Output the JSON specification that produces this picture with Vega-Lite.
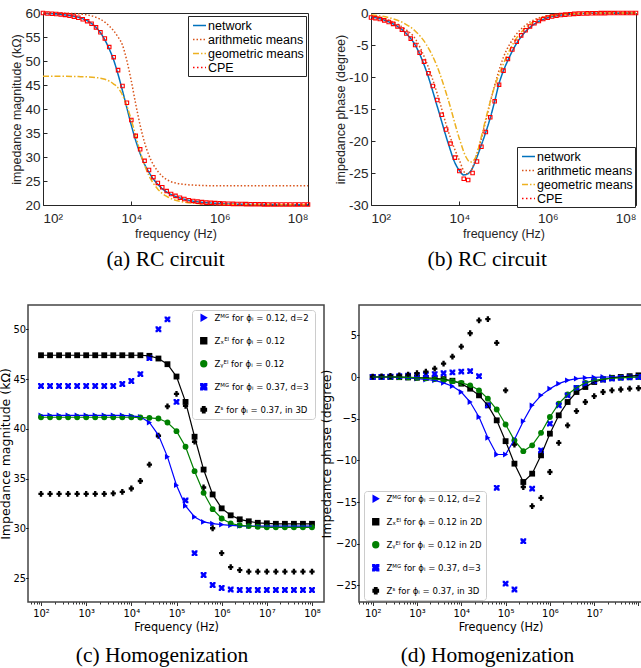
{
"$schema": "https://vega.github.io/schema/vega-lite/v6.json",
"background": "white",
"padding": {"left": -1, "top": 5, "right": 0, "bottom": 0},
"config": {"axis": {"grid": false, "domain": false, "labelOverlap": false}, "title": {"fontWeight": "normal"}},
"datasets": {
"mag": [
{"freq":100,"series":"network","value":59.9},{"freq":316.2,"series":"network","value":59.6},{"freq":631,"series":"network","value":59.1},{"freq":1000,"series":"network","value":58.4},{"freq":1259,"series":"network","value":57.8},{"freq":1585,"series":"network","value":57.0},{"freq":1995,"series":"network","value":55.9},{"freq":2512,"series":"network","value":54.4},{"freq":3162,"series":"network","value":52.5},{"freq":3981,"series":"network","value":50.2},{"freq":5012,"series":"network","value":47.2},{"freq":6310,"series":"network","value":43.8},{"freq":7943,"series":"network","value":40.2},{"freq":10000,"series":"network","value":36.6},{"freq":12590,"series":"network","value":33.4},{"freq":15850,"series":"network","value":30.7},{"freq":19950,"series":"network","value":28.5},{"freq":25120,"series":"network","value":26.8},{"freq":31620,"series":"network","value":25.4},{"freq":39810,"series":"network","value":24.3},{"freq":50120,"series":"network","value":23.4},{"freq":63100,"series":"network","value":22.7},{"freq":79430,"series":"network","value":22.2},{"freq":100000,"series":"network","value":21.8},{"freq":158500,"series":"network","value":21.2},{"freq":251200,"series":"network","value":20.8},{"freq":398100,"series":"network","value":20.55},{"freq":631000,"series":"network","value":20.4},{"freq":1000000,"series":"network","value":20.3},{"freq":3162000,"series":"network","value":20.15},{"freq":10000000,"series":"network","value":20.1},{"freq":100000000,"series":"network","value":20.05},
{"freq":100,"series":"arithmetic means","value":60.0},{"freq":316.2,"series":"arithmetic means","value":59.95},{"freq":1000,"series":"arithmetic means","value":59.6},{"freq":1585,"series":"arithmetic means","value":59.1},{"freq":2512,"series":"arithmetic means","value":58.1},{"freq":3162,"series":"arithmetic means","value":57.3},{"freq":3981,"series":"arithmetic means","value":56.3},{"freq":5012,"series":"arithmetic means","value":55.0},{"freq":6310,"series":"arithmetic means","value":53.3},{"freq":7943,"series":"arithmetic means","value":50.0},{"freq":10000,"series":"arithmetic means","value":45.8},{"freq":12590,"series":"arithmetic means","value":41.0},{"freq":15850,"series":"arithmetic means","value":36.6},{"freq":19950,"series":"arithmetic means","value":33.0},{"freq":25120,"series":"arithmetic means","value":30.3},{"freq":31620,"series":"arithmetic means","value":28.4},{"freq":39810,"series":"arithmetic means","value":27.0},{"freq":50120,"series":"arithmetic means","value":26.0},{"freq":63100,"series":"arithmetic means","value":25.3},{"freq":79430,"series":"arithmetic means","value":24.85},{"freq":100000,"series":"arithmetic means","value":24.6},{"freq":158500,"series":"arithmetic means","value":24.3},{"freq":316200,"series":"arithmetic means","value":24.1},{"freq":1000000,"series":"arithmetic means","value":24.0},{"freq":100000000,"series":"arithmetic means","value":24.0},
{"freq":100,"series":"geometric means","value":46.8},{"freq":316.2,"series":"geometric means","value":46.8},{"freq":631,"series":"geometric means","value":46.75},{"freq":1000,"series":"geometric means","value":46.7},{"freq":1585,"series":"geometric means","value":46.55},{"freq":2512,"series":"geometric means","value":46.2},{"freq":3162,"series":"geometric means","value":45.8},{"freq":3981,"series":"geometric means","value":45.2},{"freq":5012,"series":"geometric means","value":44.4},{"freq":6310,"series":"geometric means","value":42.9},{"freq":7943,"series":"geometric means","value":40.6},{"freq":10000,"series":"geometric means","value":37.7},{"freq":12590,"series":"geometric means","value":34.4},{"freq":15850,"series":"geometric means","value":31.1},{"freq":19950,"series":"geometric means","value":28.3},{"freq":25120,"series":"geometric means","value":26.1},{"freq":31620,"series":"geometric means","value":24.5},{"freq":39810,"series":"geometric means","value":23.3},{"freq":50120,"series":"geometric means","value":22.4},{"freq":63100,"series":"geometric means","value":21.8},{"freq":100000,"series":"geometric means","value":21.0},{"freq":158500,"series":"geometric means","value":20.6},{"freq":316200,"series":"geometric means","value":20.3},{"freq":1000000,"series":"geometric means","value":20.1},{"freq":100000000,"series":"geometric means","value":20.05},
{"freq":100,"series":"CPE","value":60.0},{"freq":125.9,"series":"CPE","value":59.9},{"freq":158.5,"series":"CPE","value":59.85},{"freq":199.5,"series":"CPE","value":59.8},{"freq":251.2,"series":"CPE","value":59.7},{"freq":316.2,"series":"CPE","value":59.6},{"freq":398.1,"series":"CPE","value":59.45},{"freq":501.2,"series":"CPE","value":59.25},{"freq":631,"series":"CPE","value":59.0},{"freq":794.3,"series":"CPE","value":58.7},
{"freq":1000,"series":"CPE","value":58.3},{"freq":1259,"series":"CPE","value":57.75},{"freq":1585,"series":"CPE","value":57.0},{"freq":1995,"series":"CPE","value":56.0},{"freq":2512,"series":"CPE","value":54.7},{"freq":3162,"series":"CPE","value":52.9},{"freq":3981,"series":"CPE","value":50.8},{"freq":5012,"series":"CPE","value":48.1},{"freq":6310,"series":"CPE","value":44.8},{"freq":7943,"series":"CPE","value":41.3},
{"freq":10000,"series":"CPE","value":37.7},{"freq":12590,"series":"CPE","value":34.4},{"freq":15850,"series":"CPE","value":31.6},{"freq":19950,"series":"CPE","value":29.2},{"freq":25120,"series":"CPE","value":27.3},{"freq":31620,"series":"CPE","value":25.8},{"freq":39810,"series":"CPE","value":24.6},{"freq":50120,"series":"CPE","value":23.7},{"freq":63100,"series":"CPE","value":22.9},{"freq":79430,"series":"CPE","value":22.3},
{"freq":100000,"series":"CPE","value":21.9},{"freq":125900,"series":"CPE","value":21.5},{"freq":158500,"series":"CPE","value":21.25},{"freq":199500,"series":"CPE","value":21.0},{"freq":251200,"series":"CPE","value":20.85},{"freq":316200,"series":"CPE","value":20.7},{"freq":398100,"series":"CPE","value":20.6},{"freq":501200,"series":"CPE","value":20.5},{"freq":631000,"series":"CPE","value":20.45},{"freq":794300,"series":"CPE","value":20.4},
{"freq":1000000,"series":"CPE","value":20.35},{"freq":1259000,"series":"CPE","value":20.3},{"freq":1585000,"series":"CPE","value":20.27},{"freq":1995000,"series":"CPE","value":20.24},{"freq":2512000,"series":"CPE","value":20.22},{"freq":3162000,"series":"CPE","value":20.2},{"freq":3981000,"series":"CPE","value":20.18},{"freq":5012000,"series":"CPE","value":20.16},{"freq":6310000,"series":"CPE","value":20.15},{"freq":7943000,"series":"CPE","value":20.14},
{"freq":10000000,"series":"CPE","value":20.13},{"freq":12590000,"series":"CPE","value":20.12},{"freq":15850000,"series":"CPE","value":20.11},{"freq":19950000,"series":"CPE","value":20.1},{"freq":25120000,"series":"CPE","value":20.1},{"freq":31620000,"series":"CPE","value":20.1},{"freq":39810000,"series":"CPE","value":20.1},{"freq":50120000,"series":"CPE","value":20.1},{"freq":63100000,"series":"CPE","value":20.1},{"freq":79430000,"series":"CPE","value":20.1},
{"freq":100000000,"series":"CPE","value":20.1}
],
"phase": [
{"freq":100,"series":"network","value":-0.6},{"freq":177.8,"series":"network","value":-1.0},{"freq":316.2,"series":"network","value":-1.7},{"freq":562.3,"series":"network","value":-2.9},{"freq":1000,"series":"network","value":-5.0},{"freq":1778,"series":"network","value":-9.0},{"freq":3162,"series":"network","value":-14.6},{"freq":5623,"series":"network","value":-20.4},{"freq":7943,"series":"network","value":-23.4},{"freq":10000,"series":"network","value":-24.6},{"freq":12590,"series":"network","value":-25.3},{"freq":15850,"series":"network","value":-25.1},{"freq":19950,"series":"network","value":-24.2},{"freq":25120,"series":"network","value":-22.5},{"freq":31620,"series":"network","value":-20.6},{"freq":39810,"series":"network","value":-18.6},{"freq":50120,"series":"network","value":-16.4},{"freq":63100,"series":"network","value":-13.8},{"freq":79430,"series":"network","value":-11.0},{"freq":100000,"series":"network","value":-9.0},{"freq":125900,"series":"network","value":-7.4},{"freq":177800,"series":"network","value":-5.3},{"freq":316200,"series":"network","value":-2.9},{"freq":562300,"series":"network","value":-1.5},{"freq":1000000,"series":"network","value":-0.75},{"freq":3162000,"series":"network","value":-0.2},{"freq":10000000,"series":"network","value":-0.05},{"freq":100000000,"series":"network","value":0},
{"freq":100,"series":"arithmetic means","value":-0.4},{"freq":177.8,"series":"arithmetic means","value":-0.8},{"freq":316.2,"series":"arithmetic means","value":-1.4},{"freq":562.3,"series":"arithmetic means","value":-2.4},{"freq":1000,"series":"arithmetic means","value":-4.0},{"freq":1778,"series":"arithmetic means","value":-7.6},{"freq":3162,"series":"arithmetic means","value":-12.6},{"freq":5623,"series":"arithmetic means","value":-18.5},{"freq":10000,"series":"arithmetic means","value":-23.0},{"freq":14130,"series":"arithmetic means","value":-25.1},{"freq":17780,"series":"arithmetic means","value":-24.8},{"freq":25120,"series":"arithmetic means","value":-22.0},{"freq":31620,"series":"arithmetic means","value":-19.6},{"freq":39810,"series":"arithmetic means","value":-16.8},{"freq":56230,"series":"arithmetic means","value":-12.6},{"freq":100000,"series":"arithmetic means","value":-6.9},{"freq":177800,"series":"arithmetic means","value":-3.7},{"freq":316200,"series":"arithmetic means","value":-1.9},{"freq":562300,"series":"arithmetic means","value":-0.9},{"freq":1000000,"series":"arithmetic means","value":-0.45},{"freq":3162000,"series":"arithmetic means","value":-0.12},{"freq":10000000,"series":"arithmetic means","value":-0.03},{"freq":100000000,"series":"arithmetic means","value":0},
{"freq":100,"series":"geometric means","value":-0.3},{"freq":177.8,"series":"geometric means","value":-0.5},{"freq":316.2,"series":"geometric means","value":-0.9},{"freq":562.3,"series":"geometric means","value":-1.6},{"freq":1000,"series":"geometric means","value":-2.8},{"freq":1778,"series":"geometric means","value":-4.9},{"freq":3162,"series":"geometric means","value":-8.4},{"freq":5623,"series":"geometric means","value":-13.6},{"freq":10000,"series":"geometric means","value":-19.6},{"freq":14130,"series":"geometric means","value":-22.5},{"freq":17780,"series":"geometric means","value":-23.3},{"freq":22390,"series":"geometric means","value":-22.8},{"freq":31620,"series":"geometric means","value":-19.3},{"freq":39810,"series":"geometric means","value":-16.5},{"freq":56230,"series":"geometric means","value":-12.6},{"freq":100000,"series":"geometric means","value":-7.9},{"freq":177800,"series":"geometric means","value":-4.4},{"freq":316200,"series":"geometric means","value":-2.3},{"freq":562300,"series":"geometric means","value":-1.1},{"freq":1000000,"series":"geometric means","value":-0.5},{"freq":3162000,"series":"geometric means","value":-0.15},{"freq":10000000,"series":"geometric means","value":-0.03},{"freq":100000000,"series":"geometric means","value":0},
{"freq":100,"series":"CPE","value":-0.7},{"freq":125.9,"series":"CPE","value":-0.8},{"freq":158.5,"series":"CPE","value":-0.95},{"freq":199.5,"series":"CPE","value":-1.15},{"freq":251.2,"series":"CPE","value":-1.4},{"freq":316.2,"series":"CPE","value":-1.7},{"freq":398.1,"series":"CPE","value":-2.1},{"freq":501.2,"series":"CPE","value":-2.6},{"freq":631,"series":"CPE","value":-3.2},{"freq":794.3,"series":"CPE","value":-4.0},
{"freq":1000,"series":"CPE","value":-5.0},{"freq":1259,"series":"CPE","value":-6.2},{"freq":1585,"series":"CPE","value":-7.6},{"freq":1995,"series":"CPE","value":-9.4},{"freq":2512,"series":"CPE","value":-11.4},{"freq":3162,"series":"CPE","value":-13.6},{"freq":3981,"series":"CPE","value":-15.9},{"freq":5012,"series":"CPE","value":-18.2},{"freq":6310,"series":"CPE","value":-20.4},{"freq":7943,"series":"CPE","value":-22.6},
{"freq":10000,"series":"CPE","value":-24.7},{"freq":12590,"series":"CPE","value":-25.9},{"freq":15850,"series":"CPE","value":-26.1},{"freq":19950,"series":"CPE","value":-25.0},{"freq":25120,"series":"CPE","value":-23.2},{"freq":31620,"series":"CPE","value":-20.9},{"freq":39810,"series":"CPE","value":-18.6},{"freq":50120,"series":"CPE","value":-16.3},{"freq":63100,"series":"CPE","value":-13.8},{"freq":79430,"series":"CPE","value":-11.2},
{"freq":100000,"series":"CPE","value":-9.0},{"freq":125900,"series":"CPE","value":-7.2},{"freq":158500,"series":"CPE","value":-5.7},{"freq":199500,"series":"CPE","value":-4.5},{"freq":251200,"series":"CPE","value":-3.5},{"freq":316200,"series":"CPE","value":-2.7},{"freq":398100,"series":"CPE","value":-2.1},{"freq":501200,"series":"CPE","value":-1.6},{"freq":631000,"series":"CPE","value":-1.25},{"freq":794300,"series":"CPE","value":-0.95},
{"freq":1000000,"series":"CPE","value":-0.72},{"freq":1259000,"series":"CPE","value":-0.55},{"freq":1585000,"series":"CPE","value":-0.42},{"freq":1995000,"series":"CPE","value":-0.32},{"freq":2512000,"series":"CPE","value":-0.25},{"freq":3162000,"series":"CPE","value":-0.19},{"freq":3981000,"series":"CPE","value":-0.14},{"freq":5012000,"series":"CPE","value":-0.1},{"freq":6310000,"series":"CPE","value":-0.08},{"freq":7943000,"series":"CPE","value":-0.06},
{"freq":10000000,"series":"CPE","value":-0.04},{"freq":12590000,"series":"CPE","value":-0.03},{"freq":15850000,"series":"CPE","value":-0.02},{"freq":19950000,"series":"CPE","value":-0.02},{"freq":25120000,"series":"CPE","value":-0.01},{"freq":31620000,"series":"CPE","value":-0.01},{"freq":39810000,"series":"CPE","value":0},{"freq":50120000,"series":"CPE","value":0},{"freq":63100000,"series":"CPE","value":0},{"freq":79430000,"series":"CPE","value":0},
{"freq":100000000,"series":"CPE","value":0}
],
"hmag": [
{"freq":100,"series":"mg012","value":41.35},{"freq":158.5,"series":"mg012","value":41.35},{"freq":251.2,"series":"mg012","value":41.35},{"freq":398.1,"series":"mg012","value":41.35},{"freq":631,"series":"mg012","value":41.35},{"freq":1000,"series":"mg012","value":41.35},{"freq":1585,"series":"mg012","value":41.35},{"freq":2512,"series":"mg012","value":41.35},{"freq":3981,"series":"mg012","value":41.35},{"freq":6310,"series":"mg012","value":41.35},{"freq":10000,"series":"mg012","value":41.3},{"freq":15850,"series":"mg012","value":41.2},{"freq":25120,"series":"mg012","value":40.63},{"freq":39810,"series":"mg012","value":39.36},{"freq":63100,"series":"mg012","value":37.18},{"freq":100000,"series":"mg012","value":34.33},{"freq":158500,"series":"mg012","value":32.25},{"freq":251200,"series":"mg012","value":31.14},{"freq":398100,"series":"mg012","value":30.64},{"freq":631000,"series":"mg012","value":30.47},{"freq":1000000,"series":"mg012","value":30.37},{"freq":1585000,"series":"mg012","value":30.3},{"freq":2512000,"series":"mg012","value":30.25},{"freq":3981000,"series":"mg012","value":30.22},{"freq":6310000,"series":"mg012","value":30.22},{"freq":10000000,"series":"mg012","value":30.22},{"freq":15850000,"series":"mg012","value":30.22},{"freq":25120000,"series":"mg012","value":30.22},{"freq":39810000,"series":"mg012","value":30.22},{"freq":63100000,"series":"mg012","value":30.22},{"freq":100000000,"series":"mg012","value":30.22},
{"freq":100,"series":"zx","value":47.39},{"freq":158.5,"series":"zx","value":47.39},{"freq":251.2,"series":"zx","value":47.39},{"freq":398.1,"series":"zx","value":47.39},{"freq":631,"series":"zx","value":47.39},{"freq":1000,"series":"zx","value":47.39},{"freq":1585,"series":"zx","value":47.39},{"freq":2512,"series":"zx","value":47.39},{"freq":3981,"series":"zx","value":47.39},{"freq":6310,"series":"zx","value":47.39},{"freq":10000,"series":"zx","value":47.39},{"freq":15850,"series":"zx","value":47.39},{"freq":25120,"series":"zx","value":47.33},{"freq":39810,"series":"zx","value":47.06},{"freq":63100,"series":"zx","value":46.49},{"freq":100000,"series":"zx","value":45.25},{"freq":158500,"series":"zx","value":42.7},{"freq":251200,"series":"zx","value":39.2},{"freq":398100,"series":"zx","value":35.9},{"freq":631000,"series":"zx","value":33.4},{"freq":1000000,"series":"zx","value":32.0},{"freq":1585000,"series":"zx","value":31.3},{"freq":2512000,"series":"zx","value":30.9},{"freq":3981000,"series":"zx","value":30.7},{"freq":6310000,"series":"zx","value":30.55},{"freq":10000000,"series":"zx","value":30.5},{"freq":15850000,"series":"zx","value":30.45},{"freq":25120000,"series":"zx","value":30.45},{"freq":39810000,"series":"zx","value":30.45},{"freq":63100000,"series":"zx","value":30.45},{"freq":100000000,"series":"zx","value":30.45},
{"freq":100,"series":"zy","value":41.16},{"freq":158.5,"series":"zy","value":41.16},{"freq":251.2,"series":"zy","value":41.16},{"freq":398.1,"series":"zy","value":41.16},{"freq":631,"series":"zy","value":41.16},{"freq":1000,"series":"zy","value":41.16},{"freq":1585,"series":"zy","value":41.16},{"freq":2512,"series":"zy","value":41.16},{"freq":3981,"series":"zy","value":41.16},{"freq":6310,"series":"zy","value":41.16},{"freq":10000,"series":"zy","value":41.16},{"freq":15850,"series":"zy","value":41.13},{"freq":25120,"series":"zy","value":41.1},{"freq":39810,"series":"zy","value":41.03},{"freq":63100,"series":"zy","value":40.63},{"freq":100000,"series":"zy","value":39.76},{"freq":158500,"series":"zy","value":38.19},{"freq":251200,"series":"zy","value":35.74},{"freq":398100,"series":"zy","value":33.56},{"freq":631000,"series":"zy","value":31.92},{"freq":1000000,"series":"zy","value":30.98},{"freq":1585000,"series":"zy","value":30.48},{"freq":2512000,"series":"zy","value":30.3},{"freq":3981000,"series":"zy","value":30.22},{"freq":6310000,"series":"zy","value":30.15},{"freq":10000000,"series":"zy","value":30.1},{"freq":15850000,"series":"zy","value":30.1},{"freq":25120000,"series":"zy","value":30.1},{"freq":39810000,"series":"zy","value":30.1},{"freq":63100000,"series":"zy","value":30.1},{"freq":100000000,"series":"zy","value":30.1},
{"freq":100,"series":"mg037","value":44.3},{"freq":158.5,"series":"mg037","value":44.3},{"freq":251.2,"series":"mg037","value":44.3},{"freq":398.1,"series":"mg037","value":44.3},{"freq":631,"series":"mg037","value":44.3},{"freq":1000,"series":"mg037","value":44.3},{"freq":1585,"series":"mg037","value":44.3},{"freq":2512,"series":"mg037","value":44.3},{"freq":3981,"series":"mg037","value":44.3},{"freq":6310,"series":"mg037","value":44.5},{"freq":10000,"series":"mg037","value":44.8},{"freq":15850,"series":"mg037","value":45.5},{"freq":25120,"series":"mg037","value":47.1},{"freq":39810,"series":"mg037","value":50.0},{"freq":63100,"series":"mg037","value":51.0},{"freq":100000,"series":"mg037","value":42.7},{"freq":158500,"series":"mg037","value":32.8},{"freq":251200,"series":"mg037","value":27.5},{"freq":398100,"series":"mg037","value":25.3},{"freq":631000,"series":"mg037","value":24.3},{"freq":1000000,"series":"mg037","value":24.0},{"freq":1585000,"series":"mg037","value":23.85},{"freq":2512000,"series":"mg037","value":23.8},{"freq":3981000,"series":"mg037","value":23.8},{"freq":6310000,"series":"mg037","value":23.8},{"freq":10000000,"series":"mg037","value":23.8},{"freq":15850000,"series":"mg037","value":23.8},{"freq":25120000,"series":"mg037","value":23.8},{"freq":39810000,"series":"mg037","value":23.8},{"freq":63100000,"series":"mg037","value":23.8},{"freq":100000000,"series":"mg037","value":23.8},
{"freq":100,"series":"zs","value":33.45},{"freq":158.5,"series":"zs","value":33.45},{"freq":251.2,"series":"zs","value":33.45},{"freq":398.1,"series":"zs","value":33.45},{"freq":631,"series":"zs","value":33.45},{"freq":1000,"series":"zs","value":33.45},{"freq":1585,"series":"zs","value":33.45},{"freq":2512,"series":"zs","value":33.45},{"freq":3981,"series":"zs","value":33.5},{"freq":6310,"series":"zs","value":33.65},{"freq":10000,"series":"zs","value":34.0},{"freq":15850,"series":"zs","value":34.75},{"freq":25120,"series":"zs","value":36.4},{"freq":39810,"series":"zs","value":39.3},{"freq":63100,"series":"zs","value":42.25},{"freq":100000,"series":"zs","value":43.5},{"freq":158500,"series":"zs","value":42.3},{"freq":251200,"series":"zs","value":38.7},{"freq":398100,"series":"zs","value":34.1},{"freq":631000,"series":"zs","value":30.0},{"freq":1000000,"series":"zs","value":27.5},{"freq":1585000,"series":"zs","value":26.1},{"freq":2512000,"series":"zs","value":25.8},{"freq":3981000,"series":"zs","value":25.65},{"freq":6310000,"series":"zs","value":25.65},{"freq":10000000,"series":"zs","value":25.65},{"freq":15850000,"series":"zs","value":25.65},{"freq":25120000,"series":"zs","value":25.65},{"freq":39810000,"series":"zs","value":25.65},{"freq":63100000,"series":"zs","value":25.65},{"freq":100000000,"series":"zs","value":25.65}
],
"hphase": [
{"freq":100,"series":"mg012","value":0},{"freq":158.5,"series":"mg012","value":0},{"freq":251.2,"series":"mg012","value":0},{"freq":398.1,"series":"mg012","value":-0.05},{"freq":631,"series":"mg012","value":-0.1},{"freq":1000,"series":"mg012","value":-0.2},{"freq":1585,"series":"mg012","value":-0.3},{"freq":2512,"series":"mg012","value":-0.4},{"freq":3981,"series":"mg012","value":-0.7},{"freq":6310,"series":"mg012","value":-1.1},{"freq":10000,"series":"mg012","value":-1.8},{"freq":15850,"series":"mg012","value":-3.0},{"freq":25120,"series":"mg012","value":-4.8},{"freq":39810,"series":"mg012","value":-7.3},{"freq":63100,"series":"mg012","value":-9.3},{"freq":100000,"series":"mg012","value":-9.3},{"freq":158500,"series":"mg012","value":-7.5},{"freq":251200,"series":"mg012","value":-5.3},{"freq":398100,"series":"mg012","value":-3.4},{"freq":631000,"series":"mg012","value":-2.2},{"freq":1000000,"series":"mg012","value":-1.4},{"freq":1585000,"series":"mg012","value":-0.8},{"freq":2512000,"series":"mg012","value":-0.4},{"freq":3981000,"series":"mg012","value":-0.2},{"freq":6310000,"series":"mg012","value":-0.1},{"freq":10000000,"series":"mg012","value":-0.05},{"freq":15850000,"series":"mg012","value":0},{"freq":25120000,"series":"mg012","value":0},{"freq":39810000,"series":"mg012","value":0},{"freq":63100000,"series":"mg012","value":0},{"freq":100000000,"series":"mg012","value":0},
{"freq":100,"series":"zx","value":0},{"freq":158.5,"series":"zx","value":0},{"freq":251.2,"series":"zx","value":0},{"freq":398.1,"series":"zx","value":-0.02},{"freq":631,"series":"zx","value":-0.05},{"freq":1000,"series":"zx","value":-0.08},{"freq":1585,"series":"zx","value":-0.1},{"freq":2512,"series":"zx","value":-0.15},{"freq":3981,"series":"zx","value":-0.25},{"freq":6310,"series":"zx","value":-0.45},{"freq":10000,"series":"zx","value":-0.8},{"freq":15850,"series":"zx","value":-1.4},{"freq":25120,"series":"zx","value":-2.2},{"freq":39810,"series":"zx","value":-3.4},{"freq":63100,"series":"zx","value":-5.2},{"freq":100000,"series":"zx","value":-7.7},{"freq":158500,"series":"zx","value":-10.4},{"freq":251200,"series":"zx","value":-12.6},{"freq":398100,"series":"zx","value":-11.6},{"freq":631000,"series":"zx","value":-9.4},{"freq":1000000,"series":"zx","value":-6.8},{"freq":1585000,"series":"zx","value":-4.6},{"freq":2512000,"series":"zx","value":-3.0},{"freq":3981000,"series":"zx","value":-1.8},{"freq":6310000,"series":"zx","value":-1.2},{"freq":10000000,"series":"zx","value":-0.6},{"freq":15850000,"series":"zx","value":-0.3},{"freq":25120000,"series":"zx","value":-0.1},{"freq":39810000,"series":"zx","value":0},{"freq":63100000,"series":"zx","value":0.1},{"freq":100000000,"series":"zx","value":0.2},
{"freq":100,"series":"zy","value":0},{"freq":158.5,"series":"zy","value":0},{"freq":251.2,"series":"zy","value":0},{"freq":398.1,"series":"zy","value":-0.02},{"freq":631,"series":"zy","value":-0.05},{"freq":1000,"series":"zy","value":-0.1},{"freq":1585,"series":"zy","value":-0.15},{"freq":2512,"series":"zy","value":-0.25},{"freq":3981,"series":"zy","value":-0.35},{"freq":6310,"series":"zy","value":-0.5},{"freq":10000,"series":"zy","value":-0.7},{"freq":15850,"series":"zy","value":-1.0},{"freq":25120,"series":"zy","value":-1.6},{"freq":39810,"series":"zy","value":-2.6},{"freq":63100,"series":"zy","value":-3.9},{"freq":100000,"series":"zy","value":-5.7},{"freq":158500,"series":"zy","value":-7.6},{"freq":251200,"series":"zy","value":-8.9},{"freq":398100,"series":"zy","value":-8.2},{"freq":631000,"series":"zy","value":-6.7},{"freq":1000000,"series":"zy","value":-4.8},{"freq":1585000,"series":"zy","value":-3.2},{"freq":2512000,"series":"zy","value":-2.1},{"freq":3981000,"series":"zy","value":-1.3},{"freq":6310000,"series":"zy","value":-0.7},{"freq":10000000,"series":"zy","value":-0.4},{"freq":15850000,"series":"zy","value":-0.25},{"freq":25120000,"series":"zy","value":-0.15},{"freq":39810000,"series":"zy","value":-0.1},{"freq":63100000,"series":"zy","value":-0.05},{"freq":100000000,"series":"zy","value":0},
{"freq":100,"series":"mg037","value":0},{"freq":158.5,"series":"mg037","value":0},{"freq":251.2,"series":"mg037","value":0.05},{"freq":398.1,"series":"mg037","value":0.1},{"freq":631,"series":"mg037","value":0.15},{"freq":1000,"series":"mg037","value":0.2},{"freq":1585,"series":"mg037","value":0.3},{"freq":2512,"series":"mg037","value":0.35},{"freq":3981,"series":"mg037","value":0.45},{"freq":6310,"series":"mg037","value":0.55},{"freq":10000,"series":"mg037","value":0.65},{"freq":15850,"series":"mg037","value":0.7},{"freq":25120,"series":"mg037","value":0.1},{"freq":39810,"series":"mg037","value":-3.4},{"freq":63100,"series":"mg037","value":-13.3},{"freq":100000,"series":"mg037","value":-24.8},{"freq":158500,"series":"mg037","value":-25.5},{"freq":251200,"series":"mg037","value":-19.7},{"freq":398100,"series":"mg037","value":-13.4},{"freq":631000,"series":"mg037","value":-8.8},{"freq":1000000,"series":"mg037","value":-5.6},{"freq":1585000,"series":"mg037","value":-3.4},{"freq":2512000,"series":"mg037","value":-2.2},{"freq":3981000,"series":"mg037","value":-1.3},{"freq":6310000,"series":"mg037","value":-0.8},{"freq":10000000,"series":"mg037","value":-0.5},{"freq":15850000,"series":"mg037","value":-0.3},{"freq":25120000,"series":"mg037","value":-0.2},{"freq":39810000,"series":"mg037","value":-0.1},{"freq":63100000,"series":"mg037","value":-0.05},{"freq":100000000,"series":"mg037","value":0},
{"freq":100,"series":"zs","value":0.05},{"freq":158.5,"series":"zs","value":0.08},{"freq":251.2,"series":"zs","value":0.12},{"freq":398.1,"series":"zs","value":0.18},{"freq":631,"series":"zs","value":0.28},{"freq":1000,"series":"zs","value":0.45},{"freq":1585,"series":"zs","value":0.65},{"freq":2512,"series":"zs","value":1.0},{"freq":3981,"series":"zs","value":1.6},{"freq":6310,"series":"zs","value":2.45},{"freq":10000,"series":"zs","value":3.65},{"freq":15850,"series":"zs","value":5.25},{"freq":25120,"series":"zs","value":6.8},{"freq":39810,"series":"zs","value":6.95},{"freq":63100,"series":"zs","value":4.1},{"freq":100000,"series":"zs","value":-1.6},{"freq":158500,"series":"zs","value":-8.1},{"freq":251200,"series":"zs","value":-13.2},{"freq":398100,"series":"zs","value":-15.5},{"freq":631000,"series":"zs","value":-14.5},{"freq":1000000,"series":"zs","value":-11.4},{"freq":1585000,"series":"zs","value":-7.9},{"freq":2512000,"series":"zs","value":-5.8},{"freq":3981000,"series":"zs","value":-4.1},{"freq":6310000,"series":"zs","value":-3.0},{"freq":10000000,"series":"zs","value":-2.3},{"freq":15850000,"series":"zs","value":-1.8},{"freq":25120000,"series":"zs","value":-1.6},{"freq":39810000,"series":"zs","value":-1.5},{"freq":63100000,"series":"zs","value":-1.4},{"freq":100000000,"series":"zs","value":-1.35}
]
},
"vconcat": [
{
"hconcat": [
{"width": 1, "height": 192, "view": {"stroke": null}, "data": {"values": []}, "mark": {"type": "point", "opacity": 0}, "encoding": {}},
{
"hconcat": [
{
"width": 265, "height": 192,
"view": {"stroke": "#262626", "strokeWidth": 1},
"title": {"text": "(a) RC circuit", "orient": "bottom", "anchor": "middle", "frame": "group", "dx": -10, "offset": 9, "font": "Liberation Serif", "fontSize": 21.5, "fontWeight": "normal", "color": "black"},
"data": {"name": "mag"},
"encoding": {
"x": {"field": "freq", "type": "quantitative", "scale": {"type": "log", "domain": [100, 100000000], "nice": false},
"axis": {"values": [100, 10000, 1000000, 100000000], "labelExpr": "'10' + ['⁰','¹','²','³','⁴','⁵','⁶','⁷','⁸','⁹'][round(log(datum.value)/LN10)]", "title": "frequency (Hz)", "titleFont": "Liberation Sans", "titleFontSize": 12.5, "titleFontWeight": "normal", "titleColor": "#262626", "titlePadding": 2.5, "labelFont": "Liberation Sans", "labelFontSize": 13.5, "labelColor": "#262626", "labelPadding": 10.5, "tickSize": -4, "tickColor": "#262626"}},
"y": {"field": "value", "type": "quantitative", "scale": {"domain": [20, 60], "nice": false, "zero": false},
"axis": {"values": [20,25,30,35,40,45,50,55,60], "title": "impedance magnitude (kΩ)", "titleFont": "Liberation Sans", "titleFontSize": 12.5, "titleFontWeight": "normal", "titleColor": "#262626", "titlePadding": 1, "labelFont": "Liberation Sans", "labelFontSize": 13.5, "labelColor": "#262626", "labelPadding": 7, "tickSize": -4, "tickColor": "#262626"}}
},
"layer": [
{"transform": [{"filter": "datum.series !== 'CPE'"}],
"mark": {"type": "line", "interpolate": "monotone", "strokeWidth": 1.5},
"encoding": {
"color": {"field": "series", "type": "nominal", "scale": {"domain": ["network", "arithmetic means", "geometric means", "CPE"], "range": ["#0072BD", "#D95319", "#EDB120", "#FF0000"]},
"legend": {"title": null, "orient": "none", "legendX": 145, "legendY": 3, "direction": "vertical", "strokeColor": "#262626", "fillColor": "white", "padding": 2, "rowPadding": 0, "symbolSize": 169, "symbolType": "stroke", "symbolStrokeWidth": 1.5, "symbolOffset": 2, "labelOffset": 1, "labelFont": "Liberation Sans", "labelFontSize": 12.5, "labelColor": "black", "labelLimit": 300}},
"strokeDash": {"field": "series", "type": "nominal", "scale": {"domain": ["network", "arithmetic means", "geometric means", "CPE"], "range": [[1, 0], [1.5, 2], [6, 2, 1.5, 2], [1.5, 2.5]]},
"legend": {"title": null, "orient": "none", "legendX": 145, "legendY": 3, "direction": "vertical", "strokeColor": "#262626", "fillColor": "white", "padding": 2, "rowPadding": 0, "symbolSize": 169, "symbolType": "stroke", "symbolStrokeWidth": 1.5, "symbolOffset": 2, "labelOffset": 1, "labelFont": "Liberation Sans", "labelFontSize": 12.5, "labelColor": "black", "labelLimit": 300}}
}},
{"transform": [{"filter": "datum.series === 'CPE'"}],
"mark": {"type": "point", "shape": "square", "size": 12, "filled": false, "strokeWidth": 1.1, "opacity": 1},
"encoding": {"color": {"field": "series", "type": "nominal", "scale": {"domain": ["network", "arithmetic means", "geometric means", "CPE"], "range": ["#0072BD", "#D95319", "#EDB120", "#FF0000"]}, "legend": null}}}
]
},
{
"width": 265, "height": 192,
"view": {"stroke": "#262626", "strokeWidth": 1},
"title": {"text": "(b) RC circuit", "orient": "bottom", "anchor": "middle", "frame": "bounds", "offset": 9, "font": "Liberation Serif", "fontSize": 21.5, "fontWeight": "normal", "color": "black"},
"data": {"name": "phase"},
"encoding": {
"x": {"field": "freq", "type": "quantitative", "scale": {"type": "log", "domain": [100, 100000000], "nice": false},
"axis": {"values": [100, 10000, 1000000, 100000000], "labelExpr": "'10' + ['⁰','¹','²','³','⁴','⁵','⁶','⁷','⁸','⁹'][round(log(datum.value)/LN10)]", "title": "frequency (Hz)", "titleFont": "Liberation Sans", "titleFontSize": 12.5, "titleFontWeight": "normal", "titleColor": "#262626", "titlePadding": 2.5, "labelFont": "Liberation Sans", "labelFontSize": 13.5, "labelColor": "#262626", "labelPadding": 10.5, "tickSize": -4, "tickColor": "#262626"}},
"y": {"field": "value", "type": "quantitative", "scale": {"domain": [-30, 0], "nice": false, "zero": false},
"axis": {"values": [-30,-25,-20,-15,-10,-5,0], "labelExpr": "'' + datum.value", "title": "impedance phase (degree)", "titleFont": "Liberation Sans", "titleFontSize": 12.5, "titleFontWeight": "normal", "titleColor": "#262626", "titlePadding": 1, "labelFont": "Liberation Sans", "labelFontSize": 13.5, "labelColor": "#262626", "labelPadding": 7, "tickSize": -4, "tickColor": "#262626"}}
},
"layer": [
{"transform": [{"filter": "datum.series !== 'CPE'"}],
"mark": {"type": "line", "interpolate": "monotone", "strokeWidth": 1.5},
"encoding": {
"color": {"field": "series", "type": "nominal", "scale": {"domain": ["network", "arithmetic means", "geometric means", "CPE"], "range": ["#0072BD", "#D95319", "#EDB120", "#FF0000"]},
"legend": {"title": null, "orient": "none", "legendX": 146, "legendY": 134, "direction": "vertical", "strokeColor": "#262626", "fillColor": "white", "padding": 2, "rowPadding": 0, "symbolSize": 169, "symbolType": "stroke", "symbolStrokeWidth": 1.5, "symbolOffset": 2, "labelOffset": 1, "labelFont": "Liberation Sans", "labelFontSize": 12.5, "labelColor": "black", "labelLimit": 300}},
"strokeDash": {"field": "series", "type": "nominal", "scale": {"domain": ["network", "arithmetic means", "geometric means", "CPE"], "range": [[1, 0], [1.5, 2], [6, 2, 1.5, 2], [1.5, 2.5]]},
"legend": {"title": null, "orient": "none", "legendX": 146, "legendY": 134, "direction": "vertical", "strokeColor": "#262626", "fillColor": "white", "padding": 2, "rowPadding": 0, "symbolSize": 169, "symbolType": "stroke", "symbolStrokeWidth": 1.5, "symbolOffset": 2, "labelOffset": 1, "labelFont": "Liberation Sans", "labelFontSize": 12.5, "labelColor": "black", "labelLimit": 300}}
}},
{"transform": [{"filter": "datum.series === 'CPE'"}],
"mark": {"type": "point", "shape": "square", "size": 12, "filled": false, "strokeWidth": 1.1, "opacity": 1},
"encoding": {"color": {"field": "series", "type": "nominal", "scale": {"domain": ["network", "arithmetic means", "geometric means", "CPE"], "range": ["#0072BD", "#D95319", "#EDB120", "#FF0000"]}, "legend": null}}}
]
}
],
"spacing": 63, "bounds": "flush", "align": "each",
"resolve": {"scale": {"color": "independent", "strokeDash": "independent"}}
}
],
"spacing": 14, "bounds": "flush", "align": "each",
"resolve": {"scale": {"color": "independent", "strokeDash": "independent"}}
},
{
"hconcat": [
{
"width": 296, "height": 297,
"view": {"stroke": "#444444", "strokeWidth": 1.5},
"title": {"text": "(c) Homogenization", "orient": "bottom", "anchor": "middle", "frame": "group", "dx": -14, "offset": 12, "font": "Liberation Serif", "fontSize": 21.5, "fontWeight": "normal", "color": "black"},
"data": {"name": "hmag"},
"encoding": {
"x": {"field": "freq", "type": "quantitative", "scale": {"type": "log", "domain": [51.5, 184500000], "nice": false},
"axis": {"values": [60,70,80,90,100,200,300,400,500,600,700,800,900,1000,2000,3000,4000,5000,6000,7000,8000,9000,10000,20000,30000,40000,50000,60000,70000,80000,90000,100000,200000,300000,400000,500000,600000,700000,800000,900000,1000000,2000000,3000000,4000000,5000000,6000000,7000000,8000000,9000000,10000000,20000000,30000000,40000000,50000000,60000000,70000000,80000000,90000000,100000000],
"labelExpr": "abs(log(datum.value)/LN10 - round(log(datum.value)/LN10)) < 0.01 ? '10' + ['⁰','¹','²','³','⁴','⁵','⁶','⁷','⁸','⁹'][round(log(datum.value)/LN10)] : ''",
"tickSize": {"condition": {"test": "abs(log(datum.value)/LN10 - round(log(datum.value)/LN10)) < 0.01", "value": 3.5}, "value": 2},
"tickColor": "black", "tickWidth": 0.8, "labelFont": "DejaVu Sans Condensed", "labelFontSize": 11, "labelColor": "black", "labelPadding": 1.5,
"title": "Frequency (Hz)", "titleFont": "DejaVu Sans Condensed", "titleFontSize": 12.5, "titleFontWeight": "normal", "titleColor": "black", "titlePadding": 2}},
"y": {"field": "value", "type": "quantitative", "scale": {"domain": [22.59, 52.44], "nice": false, "zero": false},
"axis": {"values": [25,30,35,40,45,50], "tickSize": 2.5, "tickColor": "black", "tickWidth": 0.8, "labelFont": "DejaVu Sans Condensed", "labelFontSize": 11, "labelColor": "black", "labelPadding": 0, "title": "Impedance magnitude (kΩ)", "titleFont": "DejaVu Sans", "titleFontSize": 12.5, "titleFontWeight": "normal", "titleColor": "black", "titlePadding": 0}}
},
"layer": [
{"mark": {"type": "point", "filled": true, "size": 34, "opacity": 1},
"encoding": {"color": {"field": "series", "type": "nominal", "scale": {"domain": ["mg012","zx","zy","mg037","zs"], "range": ["#0000FF","#000000","#008000","#0000FF","#000000"]},
"legend": {"title": null, "orient": "none", "legendX": 164, "legendY": 5, "direction": "vertical", "fillColor": "white", "strokeColor": "#cccccc", "cornerRadius": 3, "padding": 3, "rowPadding": 10, "symbolSize": 34, "symbolOffset": 4, "labelOffset": 6, "labelFont": "DejaVu Sans Condensed", "labelFontSize": 9.5, "labelColor": "black", "labelLimit": 400,
"labelExpr": "datum.value === 'mg012' ? 'Zᴹᴳ for  ϕᵢ = 0.12, d=2' : datum.value === 'zx' ? 'Zₓᴱˡ for ϕᵢ = 0.12' : datum.value === 'zy' ? 'Zᵧᴱˡ for ϕᵢ = 0.12' : datum.value === 'mg037' ? 'Zᴹᴳ for ϕᵢ = 0.37, d=3' : 'Zˢ for ϕᵢ = 0.37, in 3D'"}},
"shape": {"field": "series", "type": "nominal", "scale": {"domain": ["mg012","zx","zy","mg037","zs"], "range": ["triangle-right", "square", "circle", "M-1,-1H-0.35L0,-0.6L0.35,-1H1V-0.35L0.6,0L1,0.35V1H0.35L0,0.6L-0.35,1H-1V0.35L-0.6,0L-1,-0.35Z", "M-0.4,-1H0.4V-0.4H0.9V0.4H0.4V1H-0.4V0.4H-0.9V-0.4H-0.4Z"]},
"legend": {"title": null, "orient": "none", "legendX": 164, "legendY": 5, "direction": "vertical", "fillColor": "white", "strokeColor": "#cccccc", "cornerRadius": 3, "padding": 3, "rowPadding": 10, "symbolSize": 34, "symbolOffset": 4, "labelOffset": 6, "labelFont": "DejaVu Sans Condensed", "labelFontSize": 9.5, "labelColor": "black", "labelLimit": 400,
"labelExpr": "datum.value === 'mg012' ? 'Zᴹᴳ for  ϕᵢ = 0.12, d=2' : datum.value === 'zx' ? 'Zₓᴱˡ for ϕᵢ = 0.12' : datum.value === 'zy' ? 'Zᵧᴱˡ for ϕᵢ = 0.12' : datum.value === 'mg037' ? 'Zᴹᴳ for ϕᵢ = 0.37, d=3' : 'Zˢ for ϕᵢ = 0.37, in 3D'"}}}},
{"transform": [{"filter": "datum.series === 'mg012' || datum.series === 'zx' || datum.series === 'zy'"}],
"mark": {"type": "line", "strokeWidth": 1.2},
"encoding": {"color": {"field": "series", "type": "nominal", "scale": {"domain": ["mg012","zx","zy","mg037","zs"], "range": ["#0000FF","#000000","#008000","#0000FF","#000000"]}, "legend": null}}}
]
},
{
"width": 283, "height": 297,
"view": {"stroke": "#444444", "strokeWidth": 1.5},
"title": {"text": "(d) Homogenization", "orient": "bottom", "anchor": "middle", "frame": "group", "dx": -13, "offset": 12, "font": "Liberation Serif", "fontSize": 21.5, "fontWeight": "normal", "color": "black"},
"data": {"name": "hphase"},
"encoding": {
"x": {"field": "freq", "type": "quantitative", "scale": {"type": "log", "domain": [49.1, 120000000], "nice": false},
"axis": {"values": [50,60,70,80,90,100,200,300,400,500,600,700,800,900,1000,2000,3000,4000,5000,6000,7000,8000,9000,10000,20000,30000,40000,50000,60000,70000,80000,90000,100000,200000,300000,400000,500000,600000,700000,800000,900000,1000000,2000000,3000000,4000000,5000000,6000000,7000000,8000000,9000000,10000000,20000000,30000000,40000000,50000000,60000000,70000000,80000000,90000000,100000000],
"labelExpr": "abs(log(datum.value)/LN10 - round(log(datum.value)/LN10)) < 0.01 && datum.value < 50000000 ? '10' + ['⁰','¹','²','³','⁴','⁵','⁶','⁷','⁸','⁹'][round(log(datum.value)/LN10)] : ''",
"tickSize": {"condition": {"test": "abs(log(datum.value)/LN10 - round(log(datum.value)/LN10)) < 0.01", "value": 3.5}, "value": 2},
"tickColor": "black", "tickWidth": 0.8, "labelFont": "DejaVu Sans Condensed", "labelFontSize": 11, "labelColor": "black", "labelPadding": 1.5,
"title": "Frequency (Hz)", "titleFont": "DejaVu Sans Condensed", "titleFontSize": 12.5, "titleFontWeight": "normal", "titleColor": "black", "titlePadding": 2}},
"y": {"field": "value", "type": "quantitative", "scale": {"domain": [-27.0, 8.64], "nice": false, "zero": false},
"axis": {"values": [-25,-20,-15,-10,-5,0,5], "tickSize": 2.5, "tickColor": "black", "tickWidth": 0.8, "labelFont": "DejaVu Sans Condensed", "labelFontSize": 11, "labelColor": "black", "labelPadding": 0, "title": "Impedance phase (degree)", "titleFont": "DejaVu Sans", "titleFontSize": 12.5, "titleFontWeight": "normal", "titleColor": "black", "titlePadding": 2}}
},
"layer": [
{"mark": {"type": "point", "filled": true, "size": 34, "opacity": 1},
"encoding": {"color": {"field": "series", "type": "nominal", "scale": {"domain": ["mg012","zx","zy","mg037","zs"], "range": ["#0000FF","#000000","#008000","#0000FF","#000000"]},
"legend": {"title": null, "orient": "none", "legendX": 5, "legendY": 186, "direction": "vertical", "fillColor": "white", "strokeColor": "#cccccc", "cornerRadius": 3, "padding": 3, "rowPadding": 10, "symbolSize": 34, "symbolOffset": 4, "labelOffset": 6, "labelFont": "DejaVu Sans Condensed", "labelFontSize": 9.5, "labelColor": "black", "labelLimit": 400,
"labelExpr": "datum.value === 'mg012' ? 'Zᴹᴳ for ϕᵢ = 0.12, d=2' : datum.value === 'zx' ? 'Zₓᴱˡ for ϕᵢ = 0.12 in 2D' : datum.value === 'zy' ? 'Zᵧᴱˡ for ϕᵢ = 0.12 in 2D' : datum.value === 'mg037' ? 'Zᴹᴳ for ϕᵢ = 0.37, d=3' : 'Zˢ for ϕᵢ = 0.37, in 3D'"}},
"shape": {"field": "series", "type": "nominal", "scale": {"domain": ["mg012","zx","zy","mg037","zs"], "range": ["triangle-right", "square", "circle", "M-1,-1H-0.35L0,-0.6L0.35,-1H1V-0.35L0.6,0L1,0.35V1H0.35L0,0.6L-0.35,1H-1V0.35L-0.6,0L-1,-0.35Z", "M-0.4,-1H0.4V-0.4H0.9V0.4H0.4V1H-0.4V0.4H-0.9V-0.4H-0.4Z"]},
"legend": {"title": null, "orient": "none", "legendX": 5, "legendY": 186, "direction": "vertical", "fillColor": "white", "strokeColor": "#cccccc", "cornerRadius": 3, "padding": 3, "rowPadding": 10, "symbolSize": 34, "symbolOffset": 4, "labelOffset": 6, "labelFont": "DejaVu Sans Condensed", "labelFontSize": 9.5, "labelColor": "black", "labelLimit": 400,
"labelExpr": "datum.value === 'mg012' ? 'Zᴹᴳ for ϕᵢ = 0.12, d=2' : datum.value === 'zx' ? 'Zₓᴱˡ for ϕᵢ = 0.12 in 2D' : datum.value === 'zy' ? 'Zᵧᴱˡ for ϕᵢ = 0.12 in 2D' : datum.value === 'mg037' ? 'Zᴹᴳ for ϕᵢ = 0.37, d=3' : 'Zˢ for ϕᵢ = 0.37, in 3D'"}}}},
{"transform": [{"filter": "datum.series === 'mg012' || datum.series === 'zx' || datum.series === 'zy'"}],
"mark": {"type": "line", "strokeWidth": 1.2},
"encoding": {"color": {"field": "series", "type": "nominal", "scale": {"domain": ["mg012","zx","zy","mg037","zs"], "range": ["#0000FF","#000000","#008000","#0000FF","#000000"]}, "legend": null}}}
]
}
],
"spacing": 35, "bounds": "flush", "align": "each",
"resolve": {"scale": {"color": "independent", "shape": "independent"}}
}
],
"spacing": 33, "align": "each",
"resolve": {"scale": {"color": "independent", "shape": "independent", "strokeDash": "independent"}}
}
